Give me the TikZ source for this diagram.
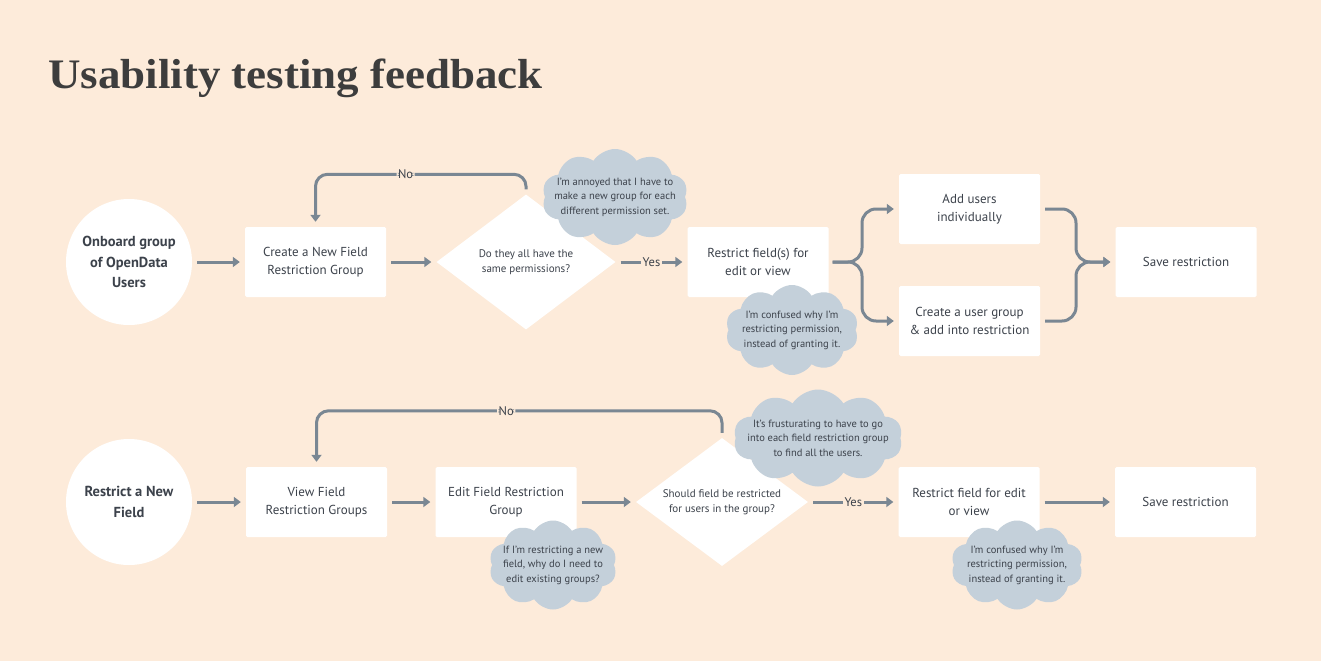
\documentclass[tikz,border=0pt]{standalone}
\usepackage{fontspec}
\setmainfont{PT Sans}
\newfontfamily\titlefont{Liberation Serif}[FakeStretch=1.07]
\usetikzlibrary{arrows.meta,shapes.geometric,shapes.symbols}
\definecolor{bg}{HTML}{FDEBDA}
\definecolor{ln}{HTML}{7A8793}
\definecolor{tx}{HTML}{3C424B}
\definecolor{cl}{HTML}{C4D0DA}
\definecolor{tt}{HTML}{3D3D3D}
\tikzset{
  box/.style={fill=white, rounded corners=1.5pt, minimum width=141pt, minimum height=70pt, inner sep=2pt, align=center, text=tx, font=\fontsize{13}{18}\selectfont},
  startc/.style={circle, fill=white, minimum size=126pt, inner sep=0pt, align=center, text=tx, font=\fontsize{14.5}{20.5}\selectfont\bfseries},
  dec/.style={diamond, fill=white, inner sep=0pt},
  dectx/.style={align=center, text=tx, font=\fontsize{11}{14.5}\selectfont},
  flow/.style={draw=ln, line width=3pt, -{Triangle[length=7pt,width=10pt]}, shorten <=5pt, shorten >=5pt},
  lab/.style={fill=bg, inner sep=1.5pt, text=tx, font=\fontsize{12.5}{14}\selectfont},
  cloudbg/.style={cloud, cloud puffs=10, cloud puff arc=115, cloud ignores aspect, fill=cl, inner sep=0pt},
  cloudtx/.style={align=center, text=tx, font=\fontsize{10.5}{14.5}\selectfont},
}
\begin{document}
\begin{tikzpicture}[x=1pt,y=-1pt]
\fill[bg] (0,0) rectangle (1321,661);
\useasboundingbox (0,0) rectangle (1321,661);
\node[anchor=base west, text=tt, font=\titlefont\bfseries\fontsize{42}{48}\selectfont, inner sep=0pt] (title) at (48,88) {Usability testing feedback};

% Row 1
\node[startc] (c1) at (129,262) {Onboard group\\of OpenData\\Users};
\node[box] (b1) at (315.5,262) {Create a New Field\\Restriction Group};
\node[dec, minimum width=179pt, minimum height=135pt] (d1) at (526,262) {};
\node[dectx] (d1t) at (d1.center) {Do they all have the\\same permissions?};
\node[box] (r1) at (758,262) {Restrict field(s) for\\edit or view};
\node[box] (a1) at (969.5,209) {Add users\\individually};
\node[box] (g1) at (969.5,321) {Create a user group\\\& add into restriction};
\node[box] (s1) at (1186,262) {Save restriction};
\coordinate (fork) at (862,262);
\coordinate (merge) at (1076,262);

\draw[flow] (c1) -- (b1);
\draw[flow] (b1) -- (d1);
\draw[flow] (d1) -- node[lab]{Yes} (r1);
\draw[flow, rounded corners=12pt] (d1.north) -- ++(0,-20) -| node[lab, pos=0.286]{No} (b1.north);
\draw[flow, rounded corners=14pt, shorten <=4pt] (r1.east) -- (fork) |- (a1.west);
\draw[flow, rounded corners=14pt, shorten <=4pt] (r1.east) -- (fork) |- (g1.west);
\draw[flow, rounded corners=14pt] (a1.east) -| (merge) -- (s1.west);
\draw[flow, rounded corners=14pt] (g1.east) -| (merge) -- (s1.west);

% Row 2
\node[startc] (c2) at (129,502) {Restrict a New\\Field};
\node[box] (v2) at (316.5,502) {View Field\\Restriction Groups};
\node[box] (e2) at (506,502) {Edit Field Restriction\\Group};
\node[dec, minimum width=172pt, minimum height=128pt] (d2) at (722,502) {};
\node[dectx] (d2t) at (d2.center) {Should field be restricted\\for users in the group?};
\node[box] (r2) at (969,502) {Restrict field for edit\\or view};
\node[box] (s2) at (1185.5,502) {Save restriction};

\draw[flow] (c2) -- (v2);
\draw[flow] (v2) -- (e2);
\draw[flow] (e2) -- (d2);
\draw[flow] (d2) -- node[lab]{Yes} (r2);
\draw[flow] (r2) -- (s2);
\draw[flow, rounded corners=12pt] (d2.north) -- ++(0,-27) -| node[lab, pos=0.266]{No} (v2.north);

% Clouds
\node[cloudbg, minimum width=146pt, minimum height=96pt] (k1) at (615,197) {};
\node[cloudtx] (k1t) at (k1.center) {I'm annoyed that I have to\\make a new group for each\\different permission set.};
\node[cloudbg, minimum width=133pt, minimum height=90pt] (k2) at (792,330) {};
\node[cloudtx] (k2t) at (k2.center) {I'm confused why I'm\\restricting permission,\\instead of granting it.};
\node[cloudbg, minimum width=128pt, minimum height=89pt] (k3) at (553,565) {};
\node[cloudtx] (k3t) at (k3.center) {If I'm restricting a new\\field, why do I need to\\edit existing groups?};
\node[cloudbg, minimum width=169pt, minimum height=97pt] (k4) at (818,438) {};
\node[cloudtx] (k4t) at (k4.center) {It's frusturating to have to go\\into each field restriction group\\to find all the users.};
\node[cloudbg, minimum width=132pt, minimum height=89pt] (k5) at (1017,565) {};
\node[cloudtx] (k5t) at (k5.center) {I'm confused why I'm\\restricting permission,\\instead of granting it.};
\end{tikzpicture}
\end{document}
